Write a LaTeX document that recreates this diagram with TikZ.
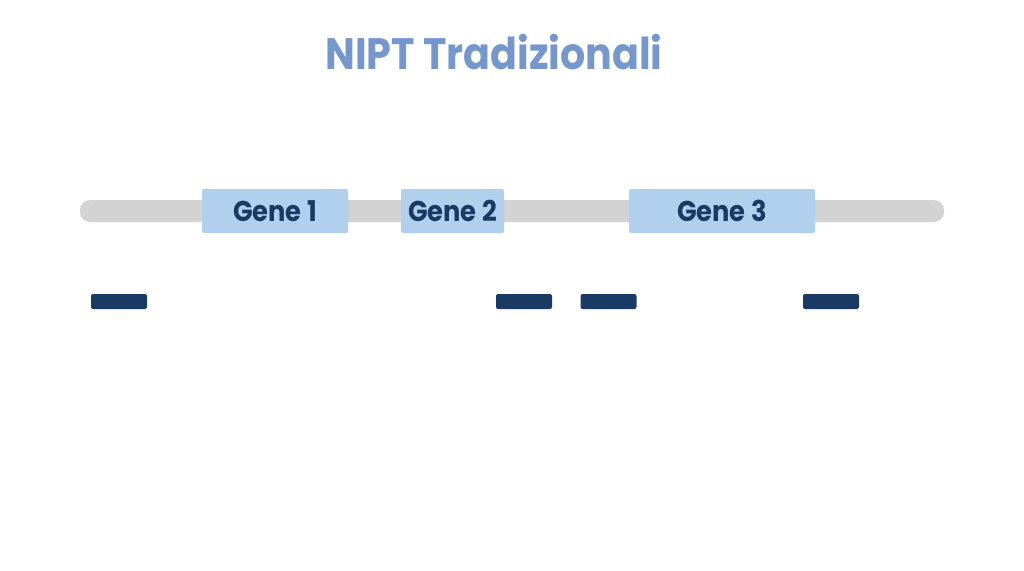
\documentclass[tikz,border=0pt]{standalone}
\usepackage{fontspec}
\setmainfont{Poppins}[FakeStretch=0.9]
\begin{document}
\begin{tikzpicture}[x=0.5pt, y=-0.5pt]
	\definecolor{titleblue}{RGB}{117, 151, 204};
\definecolor{genefill}{RGB}{177, 208, 238};
\definecolor{navy}{RGB}{27, 58, 99};
\definecolor{strand}{RGB}{211, 211, 211};

\tikzset{
	gene/.style={fill=genefill, rounded corners=1pt, inner sep=0pt, text=navy, font=\bfseries\fontsize{14.3}{16}\selectfont},
	read/.style={fill=navy, rounded corners=1pt, inner sep=0pt, minimum width=28pt, minimum height=7.5pt}
}

% \drawgene#name#x1#x2#label
\def\drawgene#1#2#3#4{
	\node[gene, minimum width={(#3 - #2) * 0.5pt}, minimum height=22pt] (#1) at ({(#2 + #3) / 2}, 211) {#4};
}

	\useasboundingbox (0, 0) rectangle (1024, 570);

	% title
	\node[text=titleblue, font=\bfseries\fontsize{22}{26}\selectfont] (title) at (494, 52) {NIPT Tradizionali};

	% chromosome
	\fill[strand, rounded corners=5pt] (80, 200) rectangle (944, 222);

	% genes
	\drawgene{g1}{202}{348}{Gene 1}
	\drawgene{g2}{401}{504}{Gene 2}
	\drawgene{g3}{629}{815}{Gene 3}

	% reads
	\foreach \x [count=\i] in {119, 524, 608.5, 831}{
		\node[read] (r\i) at (\x, 301.5) {};
	}
\end{tikzpicture}
\end{document}
